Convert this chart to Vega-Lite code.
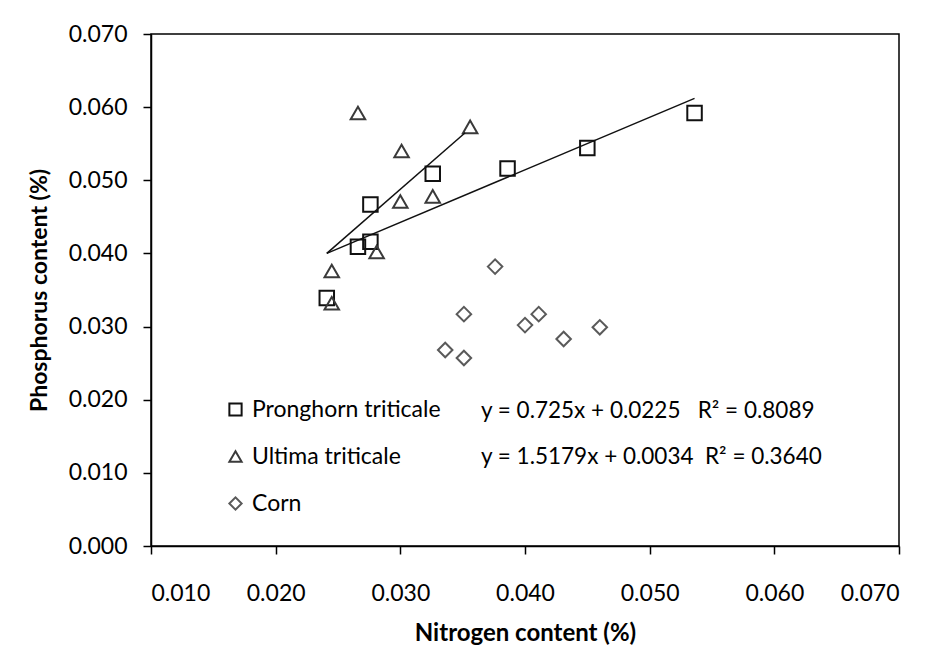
{
  "$schema": "https://vega.github.io/schema/vega-lite/v6.json",
  "width": 748,
  "height": 512,
  "autosize": {"type": "none"},
  "padding": {"left": 151, "top": 34, "right": 37, "bottom": 109},
  "background": "white",
  "config": {
    "font": "Lato",
    "view": {"stroke": "#000000", "strokeWidth": 1.5},
    "axis": {
      "grid": false,
      "domainColor": "#000000",
      "domainWidth": 1.5,
      "tickColor": "#000000",
      "tickWidth": 1.5,
      "tickSize": 8,
      "labelFont": "Lato",
      "labelFontSize": 23,
      "labelColor": "#000000",
      "titleFont": "Lato",
      "titleFontSize": 24,
      "titleFontWeight": "bold",
      "titleColor": "#000000"
    }
  },
  "datasets": {
    "points": [
      {"crop": "Pronghorn triticale", "N": 0.0241, "P": 0.0339},
      {"crop": "Pronghorn triticale", "N": 0.0266, "P": 0.0409},
      {"crop": "Pronghorn triticale", "N": 0.0276, "P": 0.0416},
      {"crop": "Pronghorn triticale", "N": 0.0276, "P": 0.0467},
      {"crop": "Pronghorn triticale", "N": 0.0326, "P": 0.0509},
      {"crop": "Pronghorn triticale", "N": 0.0386, "P": 0.0516},
      {"crop": "Pronghorn triticale", "N": 0.0450, "P": 0.0544},
      {"crop": "Pronghorn triticale", "N": 0.0536, "P": 0.0592},
      {"crop": "Ultima triticale", "N": 0.0266, "P": 0.0592},
      {"crop": "Ultima triticale", "N": 0.0356, "P": 0.0573},
      {"crop": "Ultima triticale", "N": 0.0301, "P": 0.0540},
      {"crop": "Ultima triticale", "N": 0.0300, "P": 0.0471},
      {"crop": "Ultima triticale", "N": 0.0326, "P": 0.0478},
      {"crop": "Ultima triticale", "N": 0.0281, "P": 0.0402},
      {"crop": "Ultima triticale", "N": 0.0245, "P": 0.0376},
      {"crop": "Ultima triticale", "N": 0.0245, "P": 0.0332},
      {"crop": "Corn", "N": 0.0376, "P": 0.0382},
      {"crop": "Corn", "N": 0.0351, "P": 0.0317},
      {"crop": "Corn", "N": 0.0411, "P": 0.0317},
      {"crop": "Corn", "N": 0.0400, "P": 0.0302},
      {"crop": "Corn", "N": 0.0460, "P": 0.0299},
      {"crop": "Corn", "N": 0.0431, "P": 0.0283},
      {"crop": "Corn", "N": 0.0336, "P": 0.0268},
      {"crop": "Corn", "N": 0.0351, "P": 0.0257}
    ],
    "fits": [
      {"fit": "Pronghorn triticale", "N": 0.0241, "P": 0.0400},
      {"fit": "Pronghorn triticale", "N": 0.0536, "P": 0.0612},
      {"fit": "Ultima triticale", "N": 0.0241, "P": 0.0400},
      {"fit": "Ultima triticale", "N": 0.0352, "P": 0.0565}
    ],
    "equations": [
      {"row": 1, "eq": "y = 0.725x + 0.0225\u00a0\u00a0\u00a0R² = 0.8089"},
      {"row": 2, "eq": "y = 1.5179x + 0.0034\u00a0\u00a0R² = 0.3640"}
    ]
  },
  "layer": [
    {
      "data": {"name": "points"},
      "mark": {"type": "point", "filled": false, "strokeWidth": 2, "opacity": 1, "size": 210},
      "encoding": {
        "x": {
          "field": "N", "type": "quantitative",
          "scale": {"domain": [0.01, 0.07], "nice": false, "zero": false},
          "axis": {"title": "Nitrogen content (%)", "format": ".3f", "values": [0.01, 0.02, 0.03, 0.04, 0.05, 0.06, 0.07], "labelPadding": 28, "titlePadding": 16}
        },
        "y": {
          "field": "P", "type": "quantitative",
          "scale": {"domain": [0, 0.07], "nice": false},
          "axis": {"title": "Phosphorus content (%)", "titleFontSize": 23, "format": ".3f", "values": [0, 0.01, 0.02, 0.03, 0.04, 0.05, 0.06, 0.07], "labelPadding": 16, "titlePadding": 17}
        },
        "shape": {
          "field": "crop", "type": "nominal",
          "scale": {"domain": ["Pronghorn triticale", "Ultima triticale", "Corn"], "range": ["square", "triangle-up", "diamond"]},
          "legend": {
            "title": null,
            "orient": "none",
            "legendX": 73,
            "legendY": 364,
            "labelFont": "Lato",
            "labelFontSize": 23,
            "labelColor": "#000000",
            "labelLimit": 400,
            "symbolSize": 150,
            "symbolStrokeWidth": 2,
            "symbolFillColor": "transparent",
            "rowPadding": 23,
            "labelOffset": 5
          }
        },
        "stroke": {
          "field": "crop", "type": "nominal",
          "scale": {"domain": ["Pronghorn triticale", "Ultima triticale", "Corn"], "range": ["#111111", "#3a3a3a", "#5a5a5a"]}
        }
      }
    },
    {
      "data": {"name": "fits"},
      "mark": {"type": "line", "color": "#111111", "strokeWidth": 1.5},
      "encoding": {
        "x": {"field": "N", "type": "quantitative"},
        "y": {"field": "P", "type": "quantitative"},
        "detail": {"field": "fit"}
      }
    },
    {
      "data": {"name": "equations"},
      "transform": [{"filter": "datum.row == 1"}],
      "mark": {"type": "text", "align": "left", "baseline": "middle", "font": "Lato", "fontSize": 22.5, "color": "#000000"},
      "encoding": {
        "x": {"datum": 0.03647, "type": "quantitative"},
        "y": {"datum": 0.01846, "type": "quantitative"},
        "text": {"field": "eq"}
      }
    },
    {
      "data": {"name": "equations"},
      "transform": [{"filter": "datum.row == 2"}],
      "mark": {"type": "text", "align": "left", "baseline": "middle", "font": "Lato", "fontSize": 22.5, "color": "#000000"},
      "encoding": {
        "x": {"datum": 0.03647, "type": "quantitative"},
        "y": {"datum": 0.01217, "type": "quantitative"},
        "text": {"field": "eq"}
      }
    }
  ]
}
